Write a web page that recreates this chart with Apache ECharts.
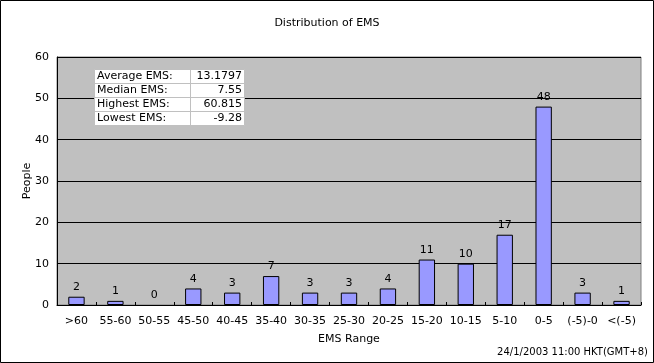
<!DOCTYPE html>
<html><head><meta charset="utf-8">
<script src="https://cdn.jsdelivr.net/npm/echarts@6/dist/echarts.min.js"></script>
<style>html,body{margin:0;padding:0;background:#fff}#c{width:654px;height:363px}</style>
</head><body><div id="c"></div>
<script>
const categories = [">60","55-60","50-55","45-50","40-45","35-40","30-35","25-30","20-25","15-20","10-15","5-10","0-5","(-5)-0","<(-5)"];
const people = [2,1,0,4,3,7,3,3,4,11,10,17,48,3,1];
const statLabels = ["Average EMS:","Median EMS:","Highest EMS:","Lowest EMS:"];
const statValues = ["13.1797","7.55","60.815","-9.28"];
const yTicks = {min:0,max:60,interval:10};

const FONT = "DejaVu Sans";
const chart = echarts.init(document.getElementById('c'), null, {renderer:'canvas'});

const tbl = {x:94,y:69,w:150,rowH:14,div:190};
const graphics = [
  {type:'rect', shape:{x:0.5,y:0.5,width:653,height:362}, style:{fill:'none',stroke:'#000',lineWidth:1}, z:100},
  {type:'rect', shape:{x:tbl.x+0.5,y:tbl.y+0.5,width:tbl.w,height:tbl.rowH*statLabels.length}, style:{fill:'#fff',stroke:'#c0c0c0',lineWidth:1}, z:50},
  {type:'line', shape:{x1:tbl.div+0.5,y1:tbl.y,x2:tbl.div+0.5,y2:tbl.y+tbl.rowH*statLabels.length}, style:{stroke:'#c0c0c0',lineWidth:1}, z:51}
];
statLabels.forEach((l,i)=>{
  if(i>0) graphics.push({type:'line', shape:{x1:tbl.x,y1:tbl.y+i*tbl.rowH+0.5,x2:tbl.x+tbl.w,y2:tbl.y+i*tbl.rowH+0.5}, style:{stroke:'#c0c0c0',lineWidth:1}, z:51});
  graphics.push({type:'text', x:tbl.x+3, y:tbl.y+i*tbl.rowH+7.5, style:{text:l,font:'11px "'+FONT+'"',fill:'#000',verticalAlign:'middle',align:'left'}, z:52});
  graphics.push({type:'text', x:tbl.x+tbl.w-2, y:tbl.y+i*tbl.rowH+7.5, style:{text:statValues[i],font:'11px "'+FONT+'"',fill:'#000',verticalAlign:'middle',align:'right'}, z:52});
});
graphics.push({type:'text', right:6, top:347, style:{text:'24/1/2003 11:00 HKT(GMT+8)',font:'10px "'+FONT+'"',fill:'#000'}});

chart.setOption({
  animation:false,
  backgroundColor:'#fff',
  textStyle:{fontFamily:FONT},
  title:{text:'Distribution of EMS',left:'center',top:13,textStyle:{fontFamily:FONT,fontSize:11,fontWeight:'normal',color:'#000'}},
  grid:{left:57,right:13,top:57,bottom:58,show:true,backgroundColor:'#c0c0c0',borderColor:'#808080',borderWidth:1},
  xAxis:{type:'category',data:categories,name:'EMS Range',nameLocation:'middle',nameGap:29,nameMoveOverlap:false,
    nameTextStyle:{fontFamily:FONT,fontSize:11,color:'#000'},
    axisLine:{lineStyle:{color:'#000'}},axisTick:{show:true,length:3,inside:true,lineStyle:{color:'#000'}},
    axisLabel:{fontFamily:FONT,fontSize:11,color:'#000',margin:11,interval:0},splitLine:{show:false}},
  yAxis:{type:'value',min:yTicks.min,max:yTicks.max,interval:yTicks.interval,name:'People',nameLocation:'middle',nameGap:24,nameMoveOverlap:false,
    nameTextStyle:{fontFamily:FONT,fontSize:11,color:'#000'},
    axisLine:{show:true,lineStyle:{color:'#000'}},axisTick:{show:false},
    axisLabel:{fontFamily:FONT,fontSize:11,color:'#000',margin:8},
    splitLine:{show:true,lineStyle:{color:'#000',width:1}}},
  series:[{type:'bar',data:people.map(v=>({value:v,itemStyle:{borderWidth:v===0?0:1}})),barWidth:'42%',
    itemStyle:{color:'#9999ff',borderColor:'#000',borderWidth:1},
    label:{show:true,position:'top',distance:4,fontFamily:FONT,fontSize:11,color:'#000'}}],
  graphic:graphics
});
</script></body></html>
